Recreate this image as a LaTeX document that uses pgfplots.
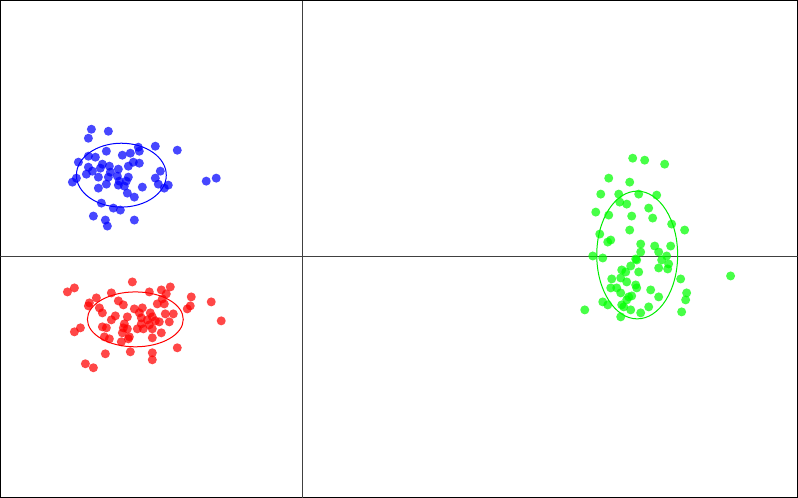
\documentclass[border=0pt]{standalone}
\usepackage{pgfplots}
\pgfplotsset{compat=1.18}
\definecolor{cblue}{HTML}{0000FF}
\definecolor{cred}{HTML}{FF0000}
\definecolor{cgreen}{HTML}{00FF00}
\pgfplotsset{dots/.style={only marks,mark=*,mark size=4.5pt,color=#1,
 mark options={fill=#1,fill opacity=0.72,draw opacity=0}}}
\begin{document}
\begin{tikzpicture}
\begin{axis}[scale only axis,width=797pt,height=497pt,
 xmin=0,xmax=798,ymin=0,ymax=498,y dir=reverse,
 xtick=\empty,ytick=\empty,axis line style={black,line width=1pt},
 clip=true]
% quadrant lines
\draw[black!75,line width=1pt] (axis cs:302,0) -- (axis cs:302,498);
\draw[black!75,line width=1pt] (axis cs:0,257) -- (axis cs:798,257);
% ellipses
\draw[cblue,line width=1pt] (axis cs:121,175) ellipse [x radius=45,y radius=32];
\draw[cred,line width=1pt] (axis cs:135,319.5) ellipse [x radius=48,y radius=27.5];
\draw[cgreen!92!black,line width=1pt] (axis cs:637.5,255) ellipse [x radius=40.5,y radius=64];
% blue cluster
\addplot[dots=cblue] coordinates {
(91,129) (108,131) (88,138) (138,147) (139,151) (155,146) (177,150) (106,151)
(122,155) (130,153) (88,156) (95,157) (78,162) (102,164) (109,166) (133,162)
(139,163) (128,166) (88,167) (92,171) (100,168) (86,174) (110,172) (118,169)
(160,171) (98,177) (108,177) (117,176) (128,177) (155,178) (76,178) (72,182)
(119,181) (126,181) (118,185) (106,184) (124,186) (158,184) (168,185) (164,188)
(142,187) (206,181) (216,178) (98,188) (127,193) (134,197) (101,203) (113,208)
(120,210) (93,216) (105,220) (134,220) (107,226)};
% red cluster
\addplot[dots=cred] coordinates {
(67,292) (74,288) (132,282) (111,293) (89,303) (88,306) (96,298) (118,301)
(123,305) (99,308) (102,313) (149,292) (161,290) (170,287) (166,294) (162,299)
(157,304) (164,304) (191,297) (190,306) (187,309) (211,302) (221,321) (134,309)
(142,308) (139,313) (150,313) (152,317) (165,314) (173,314) (127,317) (115,316)
(111,320) (124,324) (141,318) (147,320) (155,321) (159,322) (169,322) (141,324)
(149,325) (102,327) (106,328) (123,328) (127,329) (137,329) (143,329) (152,329)
(80,328) (74,332) (122,333) (161,333) (104,337) (109,339) (129,337) (128,339)
(152,338) (121,342) (177,348) (130,352) (105,354) (152,353) (152,360) (85,364)
(93,368)};
% green cluster
\addplot[dots=cgreen] coordinates {
(633,158) (645,160) (665,164) (609,178) (630,182) (601,194) (619,194) (639,194)
(657,195) (620,202) (627,204) (649,208) (596,212) (609,215) (632,216) (653,218)
(672,224) (630,230) (685,230) (600,234) (608,242) (611,240) (641,244) (655,246)
(671,246) (641,252) (659,252) (667,256) (593,256) (603,258) (636,259) (637,260)
(662,260) (669,264) (631,266) (659,268) (668,269) (622,270) (626,272) (639,272)
(612,279) (621,278) (627,282) (681,279) (731,276) (611,288) (617,288) (636,285)
(637,288) (621,293) (651,290) (687,293) (629,297) (627,300) (632,296) (659,297)
(603,302) (608,305) (622,305) (624,307) (686,300) (631,310) (649,307) (585,310)
(641,313) (682,312) (621,317)};
\end{axis}
\end{tikzpicture}
\end{document}
